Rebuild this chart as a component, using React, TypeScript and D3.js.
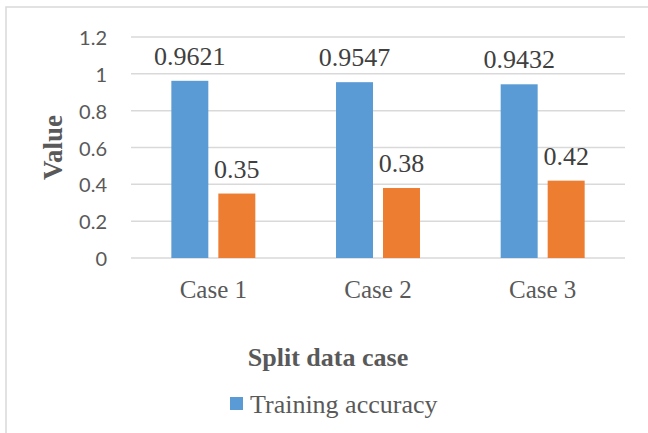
import React from "react";
import * as d3 from "d3";

const categories = ["Case 1", "Case 2", "Case 3"];
const seriesNames = ["Training accuracy", "Other"];
const trainingValues = [0.9621, 0.9547, 0.9432];
const otherValues = [0.35, 0.38, 0.42];
const valueLabels = [
  ["0.9621", "0.9547", "0.9432"],
  ["0.35", "0.38", "0.42"],
];
const yTicks = [0, 0.2, 0.4, 0.6, 0.8, 1, 1.2];
const yTickLabels = ["0", "0.2", "0.4", "0.6", "0.8", "1", "1.2"];
const colors = ["#5B9BD5", "#ED7D31"];

const W = 648;
const H = 433;
const plot = { left: 131, right: 625, top: 37, bottom: 258 };
const serif = "'Liberation Serif', 'Times New Roman', serif";
const sans = "Lato, 'Liberation Sans', sans-serif";

export default function App() {
  const y = d3.scaleLinear().domain([0, 1.2]).range([plot.bottom, plot.top]);
  const x0 = d3
    .scaleBand<string>()
    .domain(categories)
    .range([plot.left, plot.right])
    .paddingInner(0.49)
    .paddingOuter(0.245);
  const x1 = d3
    .scaleBand<string>()
    .domain(seriesNames)
    .range([0, x0.bandwidth()])
    .paddingInner(0.213)
    .paddingOuter(0);
  const series = [trainingValues, otherValues];

  return (
    <svg
      width={W}
      height={H}
      style={{ position: "fixed", left: 0, top: 0, background: "#fff" }}
    >
      <rect x={0} y={0} width={W} height={H} fill="#fff" />
      <rect
        x={6}
        y={7}
        width={W + 10}
        height={H + 10}
        fill="none"
        stroke="#d9d9d9"
        strokeWidth={1.5}
      />
      {yTicks.map((t, i) => (
        <g key={"t" + i}>
          <line
            x1={plot.left}
            x2={plot.right}
            y1={y(t)}
            y2={y(t)}
            stroke="#d9d9d9"
            strokeWidth={1.5}
          />
          <text
            x={107}
            y={y(t)}
            textAnchor="end"
            dominantBaseline="central"
            fontFamily={sans}
            fontSize={20}
            fill="#595959"
          >
            {yTickLabels[i]}
          </text>
        </g>
      ))}
      {series.map((vals, si) =>
        vals.map((v, ci) => {
          const bx = (x0(categories[ci]) ?? 0) + (x1(seriesNames[si]) ?? 0);
          return (
            <g key={`b${si}-${ci}`}>
              <rect
                x={bx}
                y={y(v)}
                width={x1.bandwidth()}
                height={y(0) - y(v)}
                fill={colors[si]}
              />
              <text
                x={bx + x1.bandwidth() / 2}
                y={y(v) - 16}
                textAnchor="middle"
                fontFamily={serif}
                fontSize={26}
                fill="#404040"
              >
                {valueLabels[si][ci]}
              </text>
            </g>
          );
        })
      )}
      {categories.map((c) => (
        <text
          key={c}
          x={(x0(c) ?? 0) + x0.bandwidth() / 2}
          y={298}
          textAnchor="middle"
          fontFamily={serif}
          fontSize={25}
          fill="#595959"
        >
          {c}
        </text>
      ))}
      <text
        transform={`translate(62, ${(plot.top + plot.bottom) / 2}) rotate(-90)`}
        textAnchor="middle"
        fontFamily={serif}
        fontWeight="bold"
        fontSize={27}
        fill="#595959"
      >
        Value
      </text>
      <text
        x={328}
        y={366}
        textAnchor="middle"
        fontFamily={serif}
        fontWeight="bold"
        fontSize={26}
        fill="#595959"
      >
        Split data case
      </text>
      <rect x={230} y={397} width={13} height={13} fill={colors[0]} />
      <text
        x={250}
        y={413}
        fontFamily={serif}
        fontSize={26}
        fill="#595959"
      >
        {seriesNames[0]}
      </text>
    </svg>
  );
}
